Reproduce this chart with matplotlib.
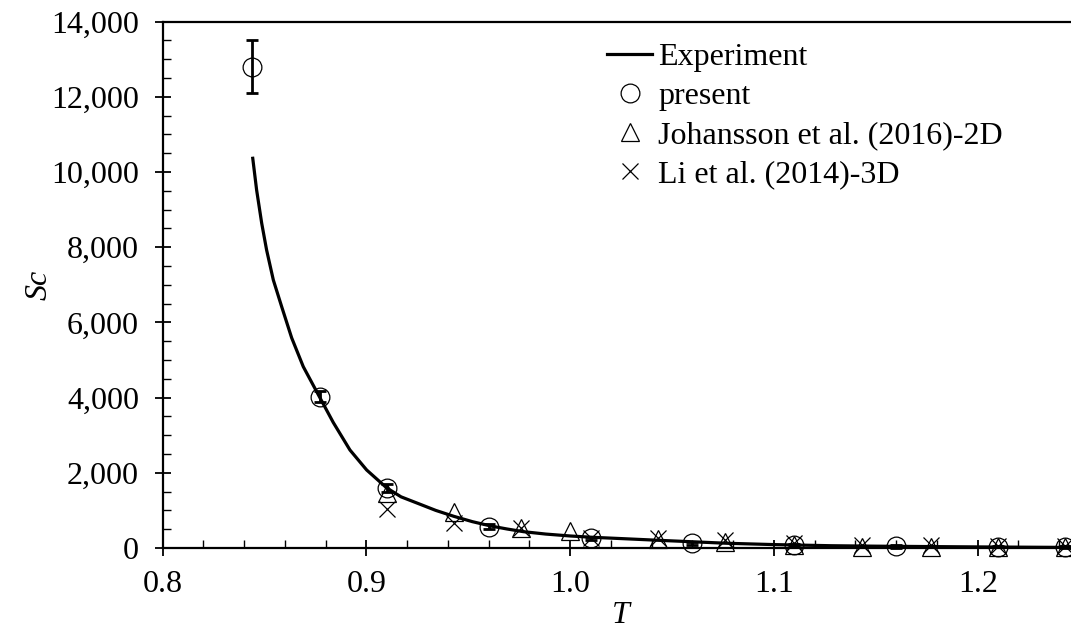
import matplotlib
matplotlib.use("Agg")
import matplotlib.pyplot as plt
from matplotlib.ticker import MultipleLocator, StrMethodFormatter

# experimental critical Schmidt number curve
exp_T = [0.8442, 0.8461, 0.8486, 0.8510, 0.8543, 0.8584, 0.8633, 0.8690, 0.8769, 0.8837,
         0.8919, 0.9001, 0.9099, 0.917, 0.926, 0.934, 0.943, 0.952, 0.961, 0.969,
         0.977, 0.988, 1.000, 1.011, 1.027, 1.043, 1.060, 1.077, 1.100, 1.128,
         1.150, 1.170, 1.190, 1.210, 1.230, 1.246]
exp_Sc = [10366, 9523, 8637, 7927, 7129, 6419, 5590, 4823, 4025, 3340,
          2607, 2075, 1600, 1360, 1170, 1000, 840, 700, 585, 505,
          434, 370, 319, 284, 245, 205, 165, 125, 90, 60,
          48, 40, 32, 25, 19, 15]

# present simulations with error bars
present_T = [0.844, 0.877, 0.910, 0.960, 1.010, 1.060, 1.110, 1.160, 1.210, 1.243]
present_Sc = [12800, 4020, 1600, 565, 265, 125, 80, 40, 35, 30]
present_err = [700, 150, 100, 60, 40, 40, 30, 30, 20, 20]

# Johansson et al. (2016), 2D
joh_T = [0.910, 0.943, 0.976, 1.000, 1.043, 1.076, 1.110, 1.143, 1.177, 1.210, 1.243]
joh_Sc = [1450, 965, 540, 455, 245, 155, 80, 35, 35, 30, 25]

# Li et al. (2014), 3D
li_T = [0.910, 0.943, 0.976, 1.010, 1.043, 1.076, 1.110, 1.143, 1.177, 1.210, 1.243]
li_Sc = [1040, 660, 525, 260, 255, 210, 120, 80, 75, 60, 50]


def main():
    plt.rcParams["font.family"] = ["Liberation Serif", "DejaVu Serif"]
    plt.rcParams["font.size"] = 23

    fig = plt.figure(figsize=(10.71, 6.30), dpi=100)
    ax = fig.add_axes([0.1519, 0.1302, 0.8561, 0.8354])

    ax.errorbar(present_T, present_Sc, yerr=present_err, fmt="none",
                ecolor="black", elinewidth=2.0, capsize=4.5, capthick=2.0,
                clip_on=False, zorder=3)
    ax.plot(present_T, present_Sc, linestyle="none", marker="o",
            markersize=13.5, markerfacecolor="none", markeredgecolor="black",
            markeredgewidth=0.9, clip_on=False, zorder=3, label="present")
    ax.plot(joh_T, joh_Sc, linestyle="none", marker="^",
            markersize=13.5, markerfacecolor="none", markeredgecolor="black",
            markeredgewidth=0.9, clip_on=False, zorder=3,
            label="Johansson et al. (2016)-2D")
    ax.plot(li_T, li_Sc, linestyle="none", marker="x",
            markersize=12, markeredgecolor="black",
            markeredgewidth=0.9, clip_on=False, zorder=3,
            label="Li et al. (2014)-3D")
    ax.plot(exp_T, exp_Sc, color="black", linewidth=2.3, zorder=4,
            solid_joinstyle="round", label="Experiment")

    ax.set_xlim(0.8, 1.25)
    ax.set_ylim(0, 14000)
    ax.xaxis.set_major_locator(MultipleLocator(0.1))
    ax.xaxis.set_minor_locator(MultipleLocator(0.02))
    ax.yaxis.set_major_locator(MultipleLocator(2000))
    ax.yaxis.set_minor_locator(MultipleLocator(500))
    ax.xaxis.set_major_formatter(StrMethodFormatter("{x:.1f}"))
    ax.yaxis.set_major_formatter(StrMethodFormatter("{x:,.0f}"))

    ax.tick_params(which="major", direction="inout", length=12, width=1.3,
                   labelsize=23)
    ax.tick_params(which="minor", direction="in", length=6, width=1.0)
    ax.tick_params(axis="y", which="major", pad=11)
    ax.tick_params(axis="x", which="major", pad=10)

    for side in ("left", "bottom", "top"):
        ax.spines[side].set_linewidth(1.6)
    ax.spines["right"].set_visible(False)

    ax.set_xlabel("T", fontstyle="italic", fontsize=23, labelpad=1)
    ax.set_ylabel("Sc", fontstyle="italic", fontsize=23, labelpad=-2)

    handles, labels = ax.get_legend_handles_labels()
    order = [3, 0, 1, 2]
    ax.legend([handles[i] for i in order], [labels[i] for i in order],
              loc="upper left", bbox_to_anchor=(0.567, 0.932),
              bbox_transform=fig.transFigure, frameon=False,
              borderpad=0, borderaxespad=0, handlelength=1.4,
              handletextpad=0.2, labelspacing=0.3, fontsize=23)

    fig.savefig("out.png", dpi=100)
    plt.close(fig)


if __name__ == "__main__":
    main()
